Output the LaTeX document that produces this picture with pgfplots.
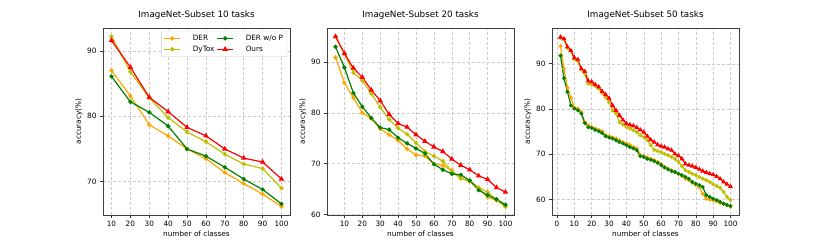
\documentclass[border=0pt]{standalone}
\usepackage{fontspec}
\setmainfont{DejaVu Sans}
\usepackage{pgfplots}
\pgfplotsset{compat=1.18}
\definecolor{cder}{HTML}{FFA500}
\definecolor{cdytox}{HTML}{BFBF00}
\definecolor{cwop}{HTML}{008000}
\definecolor{cours}{HTML}{FF0000}
\pgfplotsset{myax/.style={
  width=187pt,height=187pt,scale only axis,
  grid=major,
  grid style={densely dashed, gray!40, line width=0.5pt},
  axis line style={black!75, line width=0.8pt},
  tick align=outside, major tick length=3pt,
  xtick pos=bottom, ytick pos=left,
  tick style={black!80, line width=0.6pt},
  xlabel={number of classes}, ylabel={accuracy(\%)},
  ticklabel style={font=\fontsize{7.3}{8}\selectfont},
  label style={font=\fontsize{7.3}{8}\selectfont},
  title style={font=\fontsize{8.8}{10}\selectfont, yshift=-1pt},
  xlabel style={yshift=3pt},
  ylabel style={yshift=-2pt},
  /pgf/number format/assume math mode=true,
  every axis plot/.append style={line width=1.2pt, mark size=1.5pt},
  every mark/.append style={solid},
}}
\begin{document}
\begin{tikzpicture}
\path[use as bounding box] (0,0) rectangle (822pt,242pt);
% ---------------- 10 tasks
\begin{axis}[myax, at={(103pt,27pt)}, anchor=south west,
  title={ImageNet-Subset 10 tasks},
  xmin=5.5, xmax=104.5, ymin=64.9, ymax=93.5,
  xtick={10,20,...,100}, ytick={70,80,90},
  legend columns=2, transpose legend,
  legend style={at={(0.985,0.985)}, anchor=north east, draw=black!20, rounded corners=2pt,
    font=\fontsize{7.3}{8}\selectfont, row sep=0pt, inner sep=2pt,
    /tikz/every odd column/.append style={column sep=10pt}},
  legend image code/.code={\draw[#1, mark repeat=2, mark phase=2] plot coordinates {(0pt,0pt)(8pt,0pt)(16pt,0pt)};},
  legend cell align=left,
]
\addplot[cder, mark=*] coordinates {(10,87.0)(20,83.1)(30,78.7)(40,77.0)(50,75.0)(60,73.5)(70,71.4)(80,69.7)(90,68.1)(100,66.2)};
\addlegendentry{DER}
\addplot[cdytox, mark=*] coordinates {(10,92.2)(20,86.8)(30,82.8)(40,79.8)(50,77.6)(60,76.1)(70,74.2)(80,72.7)(90,72.0)(100,69.0)};
\addlegendentry{DyTox}
\addplot[cwop, mark=*] coordinates {(10,86.1)(20,82.2)(30,80.6)(40,78.5)(50,75.0)(60,73.9)(70,72.2)(80,70.4)(90,68.8)(100,66.6)};
\addlegendentry{DER w/o P}
\addplot[cours, mark=triangle*, mark size=2pt] coordinates {(10,91.6)(20,87.5)(30,82.9)(40,80.7)(50,78.3)(60,77.0)(70,75.0)(80,73.6)(90,73.0)(100,70.4)};
\addlegendentry{Ours}
\end{axis}
% ---------------- 20 tasks
\begin{axis}[myax, at={(327pt,27pt)}, anchor=south west,
  title={ImageNet-Subset 20 tasks},
  xmin=0.25, xmax=104.75, ymin=59.9, ymax=96.7,
  xtick={10,20,...,100}, ytick={60,70,80,90},
]
\addplot[cder, mark=*] coordinates {(5,90.9)(10,85.9)(15,83.0)(20,80.0)(25,78.9)(30,76.8)(35,75.7)(40,74.6)(45,72.9)(50,71.7)(55,71.5)(60,70.0)(65,69.6)(70,68.7)(75,67.1)(80,66.5)(85,65.1)(90,63.4)(95,62.8)(100,61.5)};
\addplot[cdytox, mark=*] coordinates {(5,95.0)(10,91.6)(15,87.9)(20,86.4)(25,83.8)(30,81.1)(35,78.7)(40,77.0)(45,75.8)(50,74.1)(55,72.4)(60,71.5)(65,70.5)(70,68.5)(75,67.1)(80,66.7)(85,65.3)(90,64.4)(95,62.9)(100,61.6)};
\addplot[cwop, mark=*] coordinates {(5,93.0)(10,88.9)(15,83.9)(20,81.2)(25,79.0)(30,77.1)(35,76.7)(40,75.1)(45,74.0)(50,73.0)(55,72.0)(60,69.9)(65,68.8)(70,68.0)(75,67.8)(80,66.7)(85,64.8)(90,63.8)(95,63.0)(100,61.9)};
\addplot[cours, mark=triangle*, mark size=2pt] coordinates {(5,95.0)(10,91.7)(15,88.8)(20,87.0)(25,84.5)(30,82.4)(35,79.7)(40,77.9)(45,77.2)(50,75.7)(55,74.4)(60,73.3)(65,72.4)(70,70.9)(75,69.7)(80,68.8)(85,67.6)(90,66.9)(95,65.3)(100,64.4)};
\end{axis}
% ---------------- 50 tasks
\begin{axis}[myax, at={(552pt,27pt)}, anchor=south west,
  title={ImageNet-Subset 50 tasks},
  xmin=-2.9, xmax=104.9, ymin=56.6, ymax=97.9,
  xtick={0,10,...,100}, ytick={60,70,80,90},
  every axis plot/.append style={mark size=1.3pt},
]
\addplot[cder, mark=*] coordinates {(2,93.9)(4,88.9)(6,84.7)(8,82.5)(10,80.3)(12,80.1)(14,79.3)(16,77.1)(18,76.4)(20,76.0)(22,75.7)(24,75.4)(26,75.1)(28,74.2)(30,74.0)(32,73.7)(34,73.5)(36,73.1)(38,72.7)(40,72.4)(42,72.1)(44,71.6)(46,71.3)(48,69.8)(50,69.6)(52,69.3)(54,69.0)(56,68.7)(58,68.3)(60,67.9)(62,67.2)(64,66.8)(66,66.5)(68,66.1)(70,65.7)(72,65.2)(74,64.6)(76,64.3)(78,63.7)(80,63.3)(82,62.8)(84,61.3)(86,60.2)(88,60.0)(90,59.9)(92,59.6)(94,59.3)(96,59.1)(98,58.8)(100,58.4)};
\addplot[cdytox, mark=*] coordinates {(2,95.7)(4,95.4)(6,93.5)(8,92.8)(10,91.0)(12,90.6)(14,88.7)(16,87.8)(18,85.6)(20,85.4)(22,85.1)(24,84.5)(26,83.5)(28,82.6)(30,81.5)(32,79.7)(34,79.0)(36,77.1)(38,76.6)(40,76.0)(42,75.7)(44,75.3)(46,74.9)(48,74.2)(50,73.8)(52,73.1)(54,72.0)(56,71.0)(58,70.7)(60,70.5)(62,70.1)(64,69.8)(66,69.4)(68,69.0)(70,68.3)(72,67.4)(74,66.5)(76,66.1)(78,65.7)(80,65.4)(82,65.0)(84,64.6)(86,64.3)(88,63.9)(90,63.4)(92,63.0)(94,62.6)(96,61.7)(98,60.6)(100,59.9)};
\addplot[cwop, mark=*] coordinates {(2,91.8)(4,86.8)(6,83.8)(8,80.8)(10,80.1)(12,79.7)(14,79.0)(16,76.9)(18,76.0)(20,75.8)(22,75.4)(24,75.1)(26,74.7)(28,74.0)(30,73.7)(32,73.5)(34,73.1)(36,72.7)(38,72.4)(40,72.0)(42,71.6)(44,71.3)(46,70.9)(48,69.6)(50,69.4)(52,69.0)(54,68.8)(56,68.5)(58,68.1)(60,67.6)(62,67.1)(64,66.7)(66,66.3)(68,66.1)(70,65.7)(72,65.4)(74,65.0)(76,64.6)(78,63.9)(80,63.5)(82,63.2)(84,62.8)(86,61.0)(88,60.6)(90,60.2)(92,59.9)(94,59.5)(96,59.1)(98,58.8)(100,58.6)};
\addplot[cours, mark=triangle*, mark size=1.7pt] coordinates {(2,95.9)(4,95.5)(6,93.7)(8,92.9)(10,91.3)(12,90.9)(14,88.9)(16,88.3)(18,86.2)(20,86.0)(22,85.4)(24,84.9)(26,83.9)(28,83.2)(30,82.4)(32,80.8)(34,79.7)(36,78.6)(38,77.6)(40,76.8)(42,76.5)(44,76.3)(46,75.9)(48,75.4)(50,74.9)(52,74.0)(54,73.2)(56,72.7)(58,72.1)(60,71.8)(62,71.6)(64,71.2)(66,70.9)(68,70.1)(70,69.7)(72,69.0)(74,67.9)(76,67.6)(78,67.4)(80,67.1)(82,66.7)(84,66.3)(86,66.0)(88,65.7)(90,65.5)(92,65.1)(94,64.6)(96,63.9)(98,63.4)(100,62.9)};
\end{axis}
\end{tikzpicture}
\end{document}
